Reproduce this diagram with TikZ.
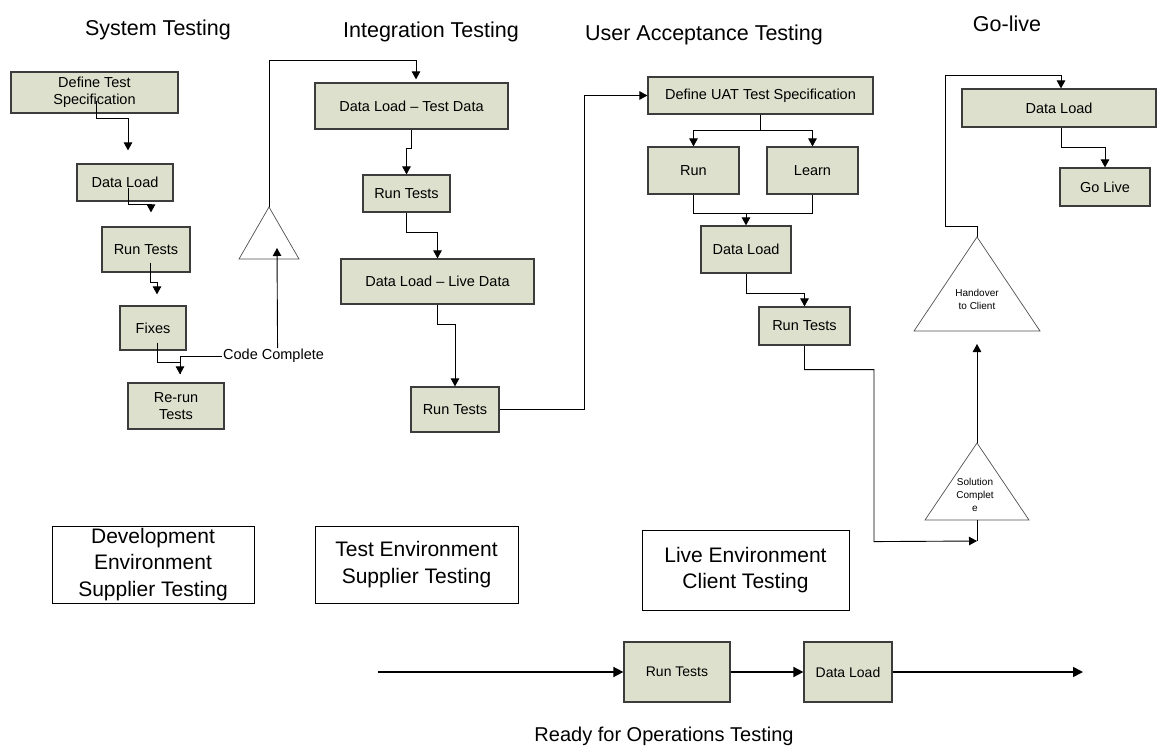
\documentclass[tikz,border=0pt]{standalone}
\usepackage{fontspec}
\setmainfont{Liberation Sans}
\usetikzlibrary{arrows.meta, calc}

\definecolor{boxfill}{RGB}{221,224,204}
\definecolor{boxline}{RGB}{60,60,60}
\definecolor{triline}{RGB}{80,80,80}

\tikzset{
  box/.style={draw=boxline, fill=boxfill, line width=1.2pt, inner sep=0pt, align=center, font=\fontsize{14.5}{17}\selectfont},
  sz/.style 2 args={minimum width=#1pt, minimum height=#2pt},
  envbox/.style={draw=black, line width=0.8pt, inner sep=0pt, align=center, font=\fontsize{21}{26.5}\selectfont},
  title/.style={inner sep=0pt, font=\fontsize{21.5}{26}\selectfont},
  lbl/.style={inner sep=1pt, font=\fontsize{14.5}{17}\selectfont},
  tritext/.style={inner sep=0pt, align=center, font=\fontsize{10}{13}\selectfont},
  tri/.style={draw=triline, line width=0.7pt, fill=white},
  link/.style={draw=black, line width=0.9pt},
  conn/.style={link, -{Triangle[length=8pt,width=8.5pt]}},
  thickconn/.style={draw=black, line width=1.6pt, -{Triangle[length=10pt,width=10pt]}}
}

\begin{document}
\begin{tikzpicture}[x=1pt, y=-1pt]
\useasboundingbox (0,0) rectangle (1157,749);

% phase titles
\node[title] (tsys) at (158,30) {System Testing};
\node[title] (tint) at (431,32) {Integration Testing};
\node[title] (tuat) at (704,35) {User Acceptance Testing};
\node[title] (tgo) at (1007,24) {Go-live};

% system testing
\node[box, sz={167}{41}] (defspec) at (94.5,92.5) {Define Test\\Specification};
\node[box, sz={96}{37}] (dload1) at (125,182.5) {Data Load};
\node[box, sz={88}{45}] (run1) at (146,249.5) {Run Tests};
\node[box, sz={66}{44}] (fixes) at (153,328) {Fixes};
\node[box, sz={96}{46}] (rerun) at (176,406) {Re-run\\Tests};
\node[lbl, anchor=west] (cc) at (222,356) {Code Complete};

% integration testing
\node[box, sz={193}{46}] (dltest) at (411.5,106) {Data Load -- Test Data};
\node[box, sz={87}{37}] (run2) at (406.5,193.5) {Run Tests};
\node[box, sz={193}{45}] (dllive) at (437.5,281.5) {Data Load -- Live Data};
\node[box, sz={88}{45}] (run3) at (455,409.5) {Run Tests};

% user acceptance testing
\node[box, sz={225}{37}] (uatspec) at (760.5,95.5) {Define UAT Test Specification};
\node[box, sz={91}{47}] (run) at (693.5,170.5) {Run};
\node[box, sz={91}{47}] (learn) at (812.5,170.5) {Learn};
\node[box, sz={90}{47}] (dload3) at (746,249.5) {Data Load};
\node[box, sz={91}{38}] (run4) at (804.5,326) {Run Tests};

% go-live
\node[box, sz={194}{38}] (dload4) at (1059,108) {Data Load};
\node[box, sz={90}{38}] (golive) at (1105,187) {Go Live};

% milestones
\draw[tri] (269,207) coordinate (t1top) -- (239,259) -- (299,259) -- cycle;
\coordinate (t1base) at (269,259);
\draw[tri] (977,443) coordinate (soltop) -- (925,520) -- (1029,520) -- cycle;
\coordinate (solbase) at (977,520);
\coordinate (sollink) at (977,541);
\draw[tri] (977,237) coordinate (hotop) -- (914,331) -- (1040,331) -- cycle;
\coordinate (hobase) at (977,331);
\node[tritext] (hotext) at (977,299) {Handover\\to Client};
\node[tritext] (soltext) at (975,495) {Solution\\Complet\\e};

% environments
\node[envbox, sz={202}{77}] (devenv) at (153,564.5) {Development\\Environment\\Supplier Testing};
\node[envbox, sz={203}{77}] (testenv) at (416.5,564.5) {Test Environment\\Supplier Testing};
\node[envbox, sz={207}{80}] (liveenv) at (745.5,570) {Live Environment\\Client Testing};

% operations
\coordinate (opsin) at (378,672);
\coordinate (opsout) at (1083,672);
\node[box, sz={106}{60}, font=\fontsize{14}{17}\selectfont] (runops) at (677,672) {Run Tests};
\node[box, sz={88}{60}, font=\fontsize{14}{17}\selectfont] (dlops) at (848,672) {Data Load};
\node[title, font=\fontsize{20}{24}\selectfont] (tops) at (664,736) {Ready for Operations Testing};

% connectors, system testing
\draw[conn] ([xshift=1.5pt,yshift=13pt]defspec.south) -- ++(0,18) -| ([xshift=3pt,yshift=13pt]dload1.north);
\draw[conn] ([xshift=3pt,yshift=14pt]dload1.south) -- ++(0,17) -| ([xshift=5pt,yshift=14pt]run1.north);
\draw[conn] ([xshift=4pt,yshift=10pt]run1.south) -- ++(0,20) -| ([xshift=4pt,yshift=11pt]fixes.north);
\draw[conn] ([xshift=4pt,yshift=8pt]fixes.south) -- ++(0,20) -| ([xshift=4pt,yshift=8pt]rerun.north);
\draw[link] (cc.west) -| ([xshift=4pt,yshift=8pt]rerun.north);
\draw[conn] ([xshift=4pt]cc.north) -- ([xshift=8pt,yshift=11pt]t1base);
\draw[conn] (t1top) -- ++(0,-147) -| ([xshift=4.5pt,yshift=3pt]dltest.north);

% connectors, integration testing
\draw[conn] (dltest.south) -- ++(0,19) -| (run2.north);
\draw[conn] (run2.south) -- ++(0,20) -| (dllive.north);
\draw[conn] (dllive.south) -- ++(0,20) -| (run3.north);
\draw[conn] (run3.east) -- ++(85,0) |- (uatspec.west);

% connectors, user acceptance testing
\draw[conn] (uatspec.south) -- ++(0,16) -| (run.north);
\draw[conn] (uatspec.south) -- ++(0,16) -| (learn.north);
\draw[link] (run.south) -- ++(0,19) -| (learn.south);
\draw[conn] (run.south) ++(0,19) -| (dload3.north);
\draw[conn] (dload3.south) -- ++(0,20) -| (run4.north);
\draw[link] (solbase) -- (sollink);
\draw[conn] (run4.south) -- ++(0,24) -| ++(69.5,172) -- (sollink);
\draw[conn] (soltop) -- ([yshift=-13pt]hobase);

% connectors, go-live
\draw[conn] (hotop) -- ++(0,-11) -| ++(-32,-151) -| ([xshift=2pt]dload4.north);
\draw[conn] ([xshift=2pt]dload4.south) -- ++(0,20) -| (golive.north);

% connectors, operations
\draw[thickconn] (opsin) -- (runops.west);
\draw[thickconn] (runops.east) -- (dlops.west);
\draw[thickconn] (dlops.east) -- (opsout);
\end{tikzpicture}
\end{document}
